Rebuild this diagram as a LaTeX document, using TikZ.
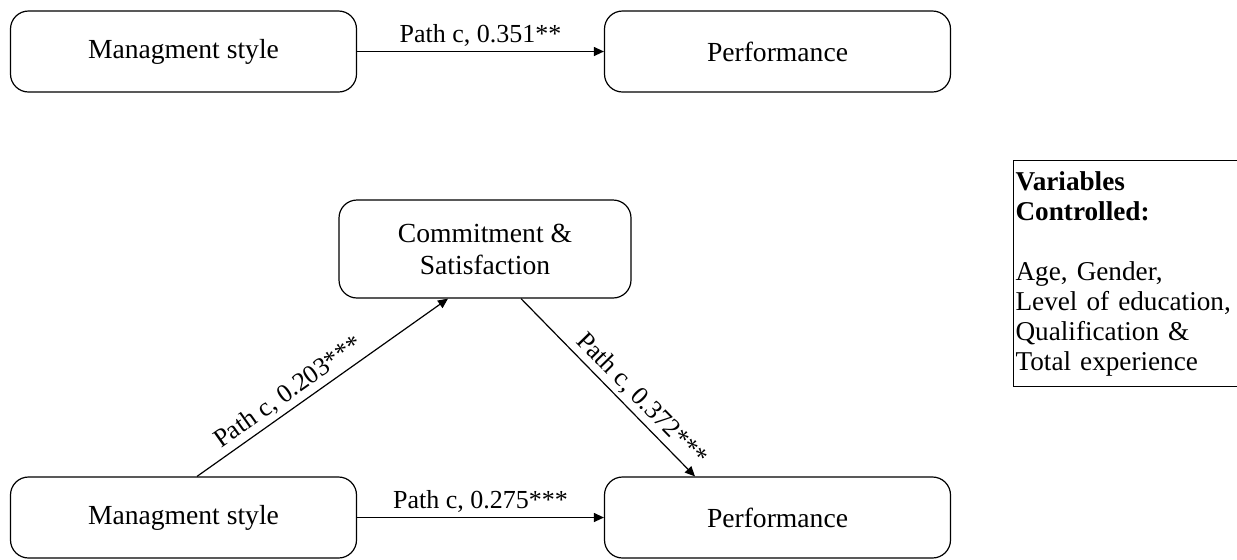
\documentclass[tikz,border=0pt]{standalone}
\usepackage{fontspec}
\setmainfont{Liberation Serif}
\usetikzlibrary{arrows.meta}

\begin{document}
\begin{tikzpicture}[x=0.5pt,y=-0.5pt,
    varbox/.style={draw,rounded corners=9pt,line width=0.6pt,minimum width=173pt,
      minimum height=40.5pt,align=center,font=\fontsize{13.8}{16}\selectfont},
    link/.style={line width=0.6pt,-{Triangle[length=5pt,width=4.5pt]}},
    lbl/.style={font=\fontsize{13}{15}\selectfont,inner sep=2pt}]
    \useasboundingbox (0,0) rectangle (1237,559);
    % total effect
    \node[varbox] (ms1) at (183.5,51.5) {Managment style};
    \node[varbox] (pf1) at (777.5,51.5) {Performance};
    \draw[link] (ms1) -- node[lbl,above]{Path c, 0.351**} (pf1);
    % mediated model
    \node[varbox,minimum width=146pt,minimum height=49pt] (cs) at (485,249)
      {Commitment \&\\Satisfaction};
    \node[varbox] (ms2) at (183.5,517.5) {Managment style};
    \node[varbox] (pf2) at (777.5,517.5) {Performance};
    \draw[link] ([xshift=6.75pt]ms2.north) --
      node[lbl,above,sloped,pos=0.4]{Path c, 0.203***} ([xshift=-18.5pt]cs.south);
    \draw[link] ([xshift=18pt]cs.south) --
      node[lbl,above,sloped,pos=0.63]{Path c, 0.372***} ([xshift=-41.25pt]pf2.north);
    \draw[link] (ms2) -- node[lbl,above]{Path c, 0.275***} (pf2);
    % controls
    \node[draw,line width=0.6pt,anchor=north west,align=left,inner xsep=1pt,
      text width=114pt,minimum height=113pt,font=\fontsize{13.6}{15}\selectfont]
      (ctrl) at (1013,160)
      {\textbf{Variables}\\\textbf{Controlled:}\\[15pt]Age, Gender,\\
       Level of education,\\Qualification \&\\Total experience};
\end{tikzpicture}
\end{document}
